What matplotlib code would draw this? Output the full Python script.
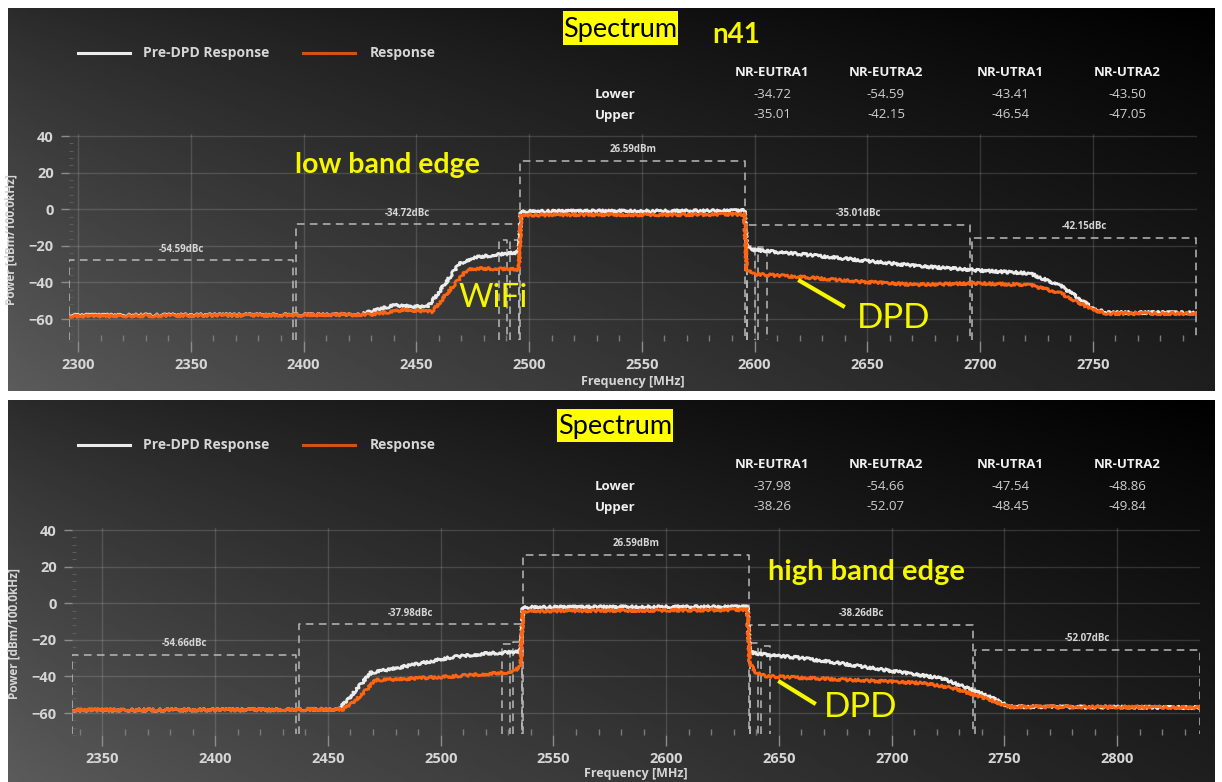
import numpy as np
import matplotlib
matplotlib.use("Agg")
import matplotlib.pyplot as plt
from matplotlib.lines import Line2D
from matplotlib.patches import Rectangle
from matplotlib.ticker import MultipleLocator

# ---------------- measurement data ----------------
acp_columns = ["NR-EUTRA1", "NR-EUTRA2", "NR-UTRA1", "NR-UTRA2"]
carrier_power = 26.59            # dBm, integrated carrier power
channel_bw = 100.0               # MHz

# low band edge capture (carrier 2496-2596 MHz)
low_center = 2546.0
low_acp_lower = [-34.72, -54.59, -43.41, -43.50]
low_acp_upper = [-35.01, -42.15, -46.54, -47.05]
low_pre_freq = [2296, 2425, 2440, 2455, 2462, 2469, 2475, 2485, 2495.5, 2496.5,
                2530, 2560, 2595.5, 2596.5, 2598, 2620, 2640, 2672, 2700, 2722,
                2736, 2750, 2756, 2796]
low_pre_level = [-58, -57.5, -52.5, -53.5, -42, -30, -26.5, -25, -23.5, -1.2,
                 -1.0, -1.0, -0.8, -20, -22, -24.5, -27, -31, -33.5, -35,
                 -42, -54, -56.5, -56.5]
low_dpd_freq = [2296, 2430, 2445, 2457, 2465, 2473, 2485, 2495.5, 2496.5, 2530,
                2560, 2595.5, 2596.5, 2600, 2620, 2646, 2672, 2698, 2722, 2736,
                2750, 2756, 2796]
low_dpd_level = [-58.5, -57.5, -55, -56, -44, -32.5, -32.5, -33, -3.2, -3.0,
                 -3.0, -2.8, -33, -35.5, -37, -39.5, -41.3, -40.5, -41.3, -46,
                 -55, -57, -57]

# high band edge capture (carrier 2536.5-2636.5 MHz)
high_center = 2586.5
high_acp_lower = [-37.98, -54.66, -47.54, -48.86]
high_acp_upper = [-38.26, -52.07, -48.45, -49.84]
high_pre_freq = [2336.5, 2455, 2462, 2469, 2480, 2505, 2520, 2535.5, 2536.5, 2580,
                 2636, 2637, 2640, 2660, 2678, 2700, 2722, 2736, 2745, 2752,
                 2836.5]
high_pre_level = [-58.5, -58, -48, -38, -35.5, -29.5, -27.5, -26.5, -2.2, -2.0,
                  -2.0, -26.5, -27.5, -30, -33, -37, -41, -47.5, -52, -56.5,
                  -57]
high_dpd_freq = [2336.5, 2457, 2465, 2471, 2480, 2505, 2528, 2533, 2535.5, 2536.5,
                 2580, 2636, 2637, 2640, 2645, 2678, 2713, 2727, 2741, 2752,
                 2836.5]
high_dpd_level = [-58.5, -58, -50, -42, -41.6, -40, -38, -37, -34, -4.3,
                  -4.0, -3.6, -33, -38, -40, -41.7, -43.6, -46.3, -51.7, -56.5,
                  -57]

x_ticks_low = [2300, 2350, 2400, 2450, 2500, 2550, 2600, 2650, 2700, 2750]
x_ticks_high = [2350, 2400, 2450, 2500, 2550, 2600, 2650, 2700, 2750, 2800]
y_ticks = [-60, -40, -20, 0, 20, 40]

# ---------------- styling ----------------
W, H = 1222, 782
UI_FONT = ["Open Sans", "DejaVu Sans"]
NOTE_FONT = ["Lato", "DejaVu Sans"]
PRE_COLOR = "#ececec"
DPD_COLOR = "#ff6412"
WIN_COLOR = "#b9b9b9"
LABEL_COLOR = "#d6d6d6"
YELLOW = "#f6f600"
Y_BOTTOM, Y_TOP = -72, 41

fig = plt.figure(figsize=(W / 100, H / 100), dpi=100, facecolor="white")


def fx(px):
    return px / W


def fy(py):
    return 1 - py / H


def panel_background(top_px, bottom_px, left_px=8, right_px=1215):
    bg = fig.add_axes([fx(left_px), fy(bottom_px), (right_px - left_px) / W,
                       (bottom_px - top_px) / H])
    u = np.linspace(0, 1, 400) ** 0.8
    v = np.linspace(0, 1, 200) ** 0.85
    U, V = np.meshgrid(u, v)
    tl, tr, bl, br = 0.17, 0.0, 0.36, 0.12
    g = tl * (1 - U) * (1 - V) + tr * U * (1 - V) + bl * (1 - U) * V + br * U * V
    bg.imshow(g, cmap="gray", vmin=0, vmax=1, aspect="auto",
              interpolation="bilinear", extent=[0, 1, 0, 1])
    bg.set_axis_off()
    return bg


def meas_window(ax, f0, f1, top, label=None):
    ax.plot([f0, f0, f1, f1], [Y_BOTTOM + 0.5, top, top, Y_BOTTOM + 0.5],
            color=WIN_COLOR, lw=1.1, ls=(0, (5, 3.5)), zorder=2)
    if label:
        ax.annotate(label, xy=((f0 + f1) / 2, top), xytext=(0, 4),
                    textcoords="offset points", ha="center", va="bottom",
                    fontsize=7, fontweight="bold", color=LABEL_COLOR,
                    family=UI_FONT)


def spectrum_panel(rect_px, center, pre_f, pre_l, dpd_f, dpd_l, acp_lower,
                   acp_upper, xticks, xlabel_y):
    left, top, right, bottom = rect_px
    ax = fig.add_axes([fx(left), fy(bottom), (right - left) / W, (bottom - top) / H])
    ax.set_facecolor("none")
    span0, span1 = center - 250, center + 250
    ax.set_xlim(span0, span1)
    ax.set_ylim(Y_BOTTOM, Y_TOP)
    for s in ax.spines.values():
        s.set_visible(False)
    ax.set_xticks(xticks)
    ax.set_yticks(y_ticks)
    ax.xaxis.set_minor_locator(MultipleLocator(10))
    ax.yaxis.set_minor_locator(MultipleLocator(4))
    ax.grid(True, which="major", color="white", alpha=0.14, lw=1.0)
    ax.tick_params(axis="x", which="major", direction="out", length=8, width=1,
                   color="#8c8c8c", pad=4, labelsize=10.5, labelcolor=LABEL_COLOR)
    ax.tick_params(axis="x", which="minor", direction="in", length=4, width=1,
                   color="#7a7a7a")
    ax.tick_params(axis="y", which="major", direction="out", length=6, width=1,
                   color="#8c8c8c", pad=5, labelsize=10.5, labelcolor=LABEL_COLOR)
    ax.tick_params(axis="y", which="minor", direction="in", length=3, width=0.8,
                   color="#5c5c5c")
    for t in ax.get_xticklabels() + ax.get_yticklabels():
        t.set_fontweight("bold")
        t.set_family(UI_FONT)
    ax.set_xlabel("Frequency [MHz]", fontsize=9, fontweight="bold",
                  color=LABEL_COLOR, family=UI_FONT, va="center")
    ax.xaxis.set_label_coords(0.5, (bottom - xlabel_y) / (bottom - top))
    ax.set_ylabel("Power [dBm/100.0kHz]", fontsize=8.5, fontweight="bold",
                  color=LABEL_COLOR, family=UI_FONT)
    ax.yaxis.set_label_coords(-0.046, 0.49)

    # measurement windows: carrier, E-UTRA (100 MHz) and UTRA (3.84 MHz)
    half = channel_bw / 2
    gap = 0.5
    meas_window(ax, center - half, center + half, carrier_power,
                f"{carrier_power:.2f}dBm")
    meas_window(ax, center - 3 * half + gap, center - half - gap,
                carrier_power + acp_lower[0], f"{acp_lower[0]:.2f}dBc")
    meas_window(ax, span0, center - 3 * half - gap, carrier_power + acp_lower[1],
                f"{acp_lower[1]:.2f}dBc")
    meas_window(ax, center + half + gap, center + 3 * half - gap,
                carrier_power + acp_upper[0], f"{acp_upper[0]:.2f}dBc")
    meas_window(ax, center + 3 * half + gap, span1, carrier_power + acp_upper[1],
                f"{acp_upper[1]:.2f}dBc")
    for off, lo, up in [(half + 2.5, acp_lower[2], acp_upper[2]),
                        (half + 7.5, acp_lower[3], acp_upper[3])]:
        meas_window(ax, center - off - 1.92, center - off + 1.92, carrier_power + lo)
        meas_window(ax, center + off - 1.92, center + off + 1.92, carrier_power + up)

    pre, = ax.plot(pre_f, pre_l, color=PRE_COLOR, lw=2.0, zorder=3)
    dpd, = ax.plot(dpd_f, dpd_l, color=DPD_COLOR, lw=2.0, zorder=4)
    for ln in (pre, dpd):
        ln.set_sketch_params(scale=1.3, length=3, randomness=4)
    return ax


def header_block(y0, acp_lower, acp_upper, title_box):
    # legend
    ly = y0 + 45
    fig.add_artist(Line2D([fx(78), fx(130)], [fy(ly), fy(ly)], color=PRE_COLOR,
                          lw=2.2, transform=fig.transFigure))
    fig.text(fx(143), fy(ly), "Pre-DPD Response", fontsize=10, fontweight="bold",
             color=LABEL_COLOR, va="center", ha="left", family=UI_FONT)
    fig.add_artist(Line2D([fx(303), fx(355)], [fy(ly), fy(ly)], color="#cf5512",
                          lw=2.2, transform=fig.transFigure))
    fig.text(fx(370), fy(ly), "Response", fontsize=10, fontweight="bold",
             color=LABEL_COLOR, va="center", ha="left", family=UI_FONT)
    # highlighted title
    bx0, by0, bx1, by1 = title_box
    fig.add_artist(Rectangle((fx(bx0), fy(by1)), (bx1 - bx0) / W, (by1 - by0) / H,
                             transform=fig.transFigure, facecolor="#ffff00",
                             edgecolor="none"))
    fig.text(fx((bx0 + bx1) / 2), fy((by0 + by1) / 2 + 1), "Spectrum", fontsize=19.5,
             color="black", ha="center", va="center", family=NOTE_FONT)
    # adjacent channel power table
    col_x = [772, 886, 1010, 1127]
    hy, lo_y, up_y = y0 + 64, y0 + 87, y0 + 107
    for x, name in zip(col_x, acp_columns):
        fig.text(fx(x), fy(hy), name, fontsize=9.5, fontweight="bold", color="#f0f0f0",
                 ha="center", va="center", family=UI_FONT)
    fig.text(fx(595), fy(lo_y), "Lower", fontsize=9.5, fontweight="bold",
             color="#f0f0f0", ha="left", va="center", family=UI_FONT)
    fig.text(fx(595), fy(up_y), "Upper", fontsize=9.5, fontweight="bold",
             color="#f0f0f0", ha="left", va="center", family=UI_FONT)
    for x, lo, up in zip(col_x, acp_lower, acp_upper):
        fig.text(fx(x), fy(lo_y), f"{lo:.2f}", fontsize=9.5, color="#cfcfcf",
                 ha="center", va="center", family=UI_FONT)
        fig.text(fx(x), fy(up_y), f"{up:.2f}", fontsize=9.5, color="#cfcfcf",
                 ha="center", va="center", family=UI_FONT)


# ---------------- upper panel: low band edge ----------------
panel_background(8, 391)
header_block(8, low_acp_lower, low_acp_upper, (563, 11, 678, 45))
fig.text(fx(736), fy(35), "n41", fontsize=20, fontweight="bold", color=YELLOW,
         ha="center", va="center", family=NOTE_FONT)
ax1 = spectrum_panel((69, 134.2, 1196.5, 341.0), low_center, low_pre_freq,
                     low_pre_level, low_dpd_freq, low_dpd_level, low_acp_lower,
                     low_acp_upper, x_ticks_low, 382)
fig.text(fx(387), fy(165), "low band edge", fontsize=20.5, fontweight="bold",
         color=YELLOW, ha="center", va="center", family=NOTE_FONT)
fig.text(fx(493), fy(298), "WiFi", fontsize=24, color=YELLOW, ha="center",
         va="center", family=NOTE_FONT)
fig.text(fx(894), fy(318), "DPD", fontsize=25, color=YELLOW, ha="center",
         va="center", family=NOTE_FONT)
fig.add_artist(Line2D([fx(800), fx(843)], [fy(281), fy(306)], color=YELLOW, lw=3,
                      transform=fig.transFigure))

# ---------------- lower panel: high band edge ----------------
panel_background(400, 782)
header_block(400, high_acp_lower, high_acp_upper, (557, 409, 673, 442))
ax2 = spectrum_panel((72, 528.2, 1199.5, 735.0), high_center, high_pre_freq,
                     high_pre_level, high_dpd_freq, high_dpd_level, high_acp_lower,
                     high_acp_upper, x_ticks_high, 773)
fig.text(fx(866), fy(572), "high band edge", fontsize=21, fontweight="bold",
         color=YELLOW, ha="center", va="center", family=NOTE_FONT)
fig.text(fx(861), fy(707), "DPD", fontsize=25, color=YELLOW, ha="center",
         va="center", family=NOTE_FONT)
fig.add_artist(Line2D([fx(780), fx(814)], [fy(682), fy(703)], color=YELLOW, lw=3,
                      transform=fig.transFigure))

fig.savefig("out.png", dpi=100, facecolor="white")
